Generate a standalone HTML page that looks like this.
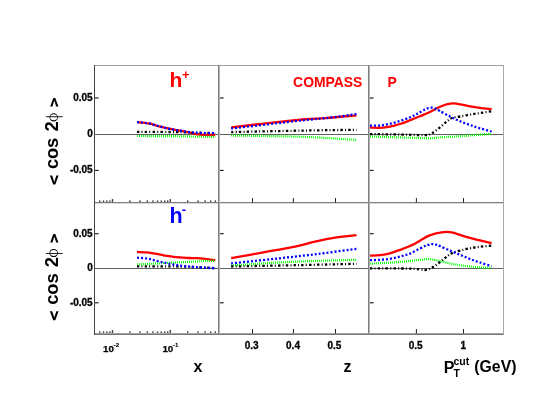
<!DOCTYPE html><html><head><meta charset="utf-8"><style>html,body{margin:0;padding:0;background:#fff}svg{display:block;will-change:transform}</style></head><body><svg width="537" height="415" viewBox="0 0 537 415">
<rect width="537" height="415" fill="#fff"/>
<g shape-rendering="crispEdges">
<rect x="94" y="65" width="410" height="1" fill="#a0a0a0"/>
<rect x="94" y="202" width="410" height="1" fill="#808080"/>
<rect x="94" y="203" width="410" height="1" fill="#dadada"/>
<rect x="94" y="333" width="410" height="1" fill="#a4a4a4"/>
<rect x="94" y="334" width="410" height="1" fill="#767676"/>
<rect x="94" y="134" width="409" height="1" fill="#606060"/>
<rect x="94" y="268" width="409" height="1" fill="#606060"/>
<rect x="94" y="65" width="1" height="270" fill="#444"/>
<rect x="218" y="65" width="1" height="270" fill="#808080"/>
<rect x="219" y="66" width="1" height="268" fill="#b4b4b4"/>
<rect x="368" y="65" width="1" height="270" fill="#808080"/>
<rect x="369" y="66" width="1" height="268" fill="#b4b4b4"/>
<rect x="503" y="65" width="1" height="270" fill="#a8a8a8"/>
</g>
<g fill="#222"><rect x="252.0" y="198" width="1" height="4.5"/><rect x="292.9" y="198" width="1" height="4.5"/><rect x="335.0" y="198" width="1" height="4.5"/><rect x="415.9" y="198" width="1" height="4.5"/><rect x="463.0" y="198" width="1" height="4.5"/><rect x="252.0" y="329" width="1" height="4.5"/><rect x="292.9" y="329" width="1" height="4.5"/><rect x="335.0" y="329" width="1" height="4.5"/><rect x="415.9" y="329" width="1" height="4.5"/><rect x="463.0" y="329" width="1" height="4.5"/></g>
<g fill="#444"><rect x="99.0" y="200.4" width="1.4" height="1.6"/><rect x="102.8" y="200.4" width="1.4" height="1.6"/><rect x="106.2" y="200.4" width="1.4" height="1.6"/><rect x="109.2" y="200.4" width="1.4" height="1.6"/><rect x="111.8" y="199.0" width="1.4" height="3"/><rect x="129.2" y="200.4" width="1.4" height="1.6"/><rect x="139.4" y="200.4" width="1.4" height="1.6"/><rect x="146.6" y="200.4" width="1.4" height="1.6"/><rect x="152.2" y="200.4" width="1.4" height="1.6"/><rect x="156.8" y="200.4" width="1.4" height="1.6"/><rect x="160.6" y="200.4" width="1.4" height="1.6"/><rect x="164.0" y="200.4" width="1.4" height="1.6"/><rect x="167.0" y="200.4" width="1.4" height="1.6"/><rect x="169.6" y="199.0" width="1.4" height="3"/><rect x="187.0" y="200.4" width="1.4" height="1.6"/><rect x="197.2" y="200.4" width="1.4" height="1.6"/><rect x="204.4" y="200.4" width="1.4" height="1.6"/><rect x="210.0" y="200.4" width="1.4" height="1.6"/><rect x="214.6" y="200.4" width="1.4" height="1.6"/><rect x="99.0" y="331.4" width="1.4" height="1.6"/><rect x="102.8" y="331.4" width="1.4" height="1.6"/><rect x="106.2" y="331.4" width="1.4" height="1.6"/><rect x="109.2" y="331.4" width="1.4" height="1.6"/><rect x="111.8" y="330.0" width="1.4" height="3"/><rect x="129.2" y="331.4" width="1.4" height="1.6"/><rect x="139.4" y="331.4" width="1.4" height="1.6"/><rect x="146.6" y="331.4" width="1.4" height="1.6"/><rect x="152.2" y="331.4" width="1.4" height="1.6"/><rect x="156.8" y="331.4" width="1.4" height="1.6"/><rect x="160.6" y="331.4" width="1.4" height="1.6"/><rect x="164.0" y="331.4" width="1.4" height="1.6"/><rect x="167.0" y="331.4" width="1.4" height="1.6"/><rect x="169.6" y="330.0" width="1.4" height="3"/><rect x="187.0" y="331.4" width="1.4" height="1.6"/><rect x="197.2" y="331.4" width="1.4" height="1.6"/><rect x="204.4" y="331.4" width="1.4" height="1.6"/><rect x="210.0" y="331.4" width="1.4" height="1.6"/><rect x="214.6" y="331.4" width="1.4" height="1.6"/></g>
<g fill="#111"><rect x="95" y="97.45" width="3.6" height="1.1"/><rect x="95" y="169.85" width="3.6" height="1.1"/><rect x="95" y="233.15" width="3.6" height="1.1"/><rect x="95" y="302.25" width="3.6" height="1.1"/><rect x="220" y="97.45" width="3.6" height="1.1"/><rect x="220" y="169.85" width="3.6" height="1.1"/><rect x="220" y="233.15" width="3.6" height="1.1"/><rect x="220" y="302.25" width="3.6" height="1.1"/><rect x="370" y="97.45" width="3.6" height="1.1"/><rect x="370" y="169.85" width="3.6" height="1.1"/><rect x="370" y="233.15" width="3.6" height="1.1"/><rect x="370" y="302.25" width="3.6" height="1.1"/></g>
<g fill="none" stroke-linejoin="round">
<path d="M137.0,122.2 C137.7,122.2 139.7,122.4 141.0,122.5 C142.3,122.6 143.5,122.6 145.0,122.8 C146.5,123.0 148.3,123.3 150.0,123.7 C151.7,124.1 153.3,124.7 155.0,125.2 C156.7,125.7 158.3,126.2 160.0,126.6 C161.7,127.0 163.3,127.4 165.0,127.8 C166.7,128.2 167.5,128.4 170.0,128.9 C172.5,129.4 176.7,130.0 180.0,130.6 C183.3,131.2 187.5,132.1 190.0,132.6 C192.5,133.1 193.3,133.5 195.0,133.8 C196.7,134.1 198.0,134.3 200.0,134.5 C202.0,134.7 204.5,134.8 207.0,134.9 C209.5,135.0 213.8,135.0 215.2,135.0" stroke="#ff0000" stroke-width="2.3"/>
<path d="M137.0,136.0 C143.3,136.0 165.3,136.1 175.0,136.2 C184.7,136.3 188.3,136.5 195.0,136.6 C201.7,136.7 211.8,136.9 215.2,137.0" stroke="#00ff00" stroke-width="2.2" stroke-dasharray="1 1"/>
<path d="M137.0,131.9 C142.5,131.9 161.2,131.9 170.0,132.0 C178.8,132.1 182.5,132.3 190.0,132.5 C197.5,132.7 211.0,133.0 215.2,133.1" stroke="#000000" stroke-width="2.3" stroke-dasharray="2.4 2.2 1 2.2"/>
<path d="M137.0,122.2 C137.7,122.2 139.7,122.4 141.0,122.5 C142.3,122.6 143.5,122.6 145.0,122.8 C146.5,123.0 148.3,123.3 150.0,123.7 C151.7,124.1 153.3,124.7 155.0,125.2 C156.7,125.7 158.3,126.2 160.0,126.6 C161.7,127.0 163.3,127.4 165.0,127.8 C166.7,128.2 167.5,128.4 170.0,128.9 C172.5,129.4 176.7,130.1 180.0,130.6 C183.3,131.1 186.7,131.8 190.0,132.2 C193.3,132.6 195.8,132.8 200.0,133.0 C204.2,133.2 212.7,133.2 215.2,133.2" stroke="#0000ff" stroke-width="2.3" stroke-dasharray="2 2"/>
<path d="M231.2,127.3 C243.0,126.0 286.4,121.0 302.0,119.5 C317.6,118.0 315.9,118.9 325.0,118.2 C334.1,117.5 351.2,115.8 356.5,115.3" stroke="#ff0000" stroke-width="2.3"/>
<path d="M231.2,135.5 C243.0,135.7 281.1,136.1 302.0,136.8 C322.9,137.5 347.4,139.4 356.5,139.9" stroke="#00ff00" stroke-width="2.2" stroke-dasharray="1 1"/>
<path d="M231.2,132.1 C243.0,131.8 281.1,131.0 302.0,130.6 C322.9,130.2 347.4,129.9 356.5,129.8" stroke="#000000" stroke-width="2.3" stroke-dasharray="2.4 2.2 1 2.2"/>
<path d="M231.2,128.5 C243.0,127.2 286.4,122.1 302.0,120.4 C317.6,118.7 315.9,119.2 325.0,118.2 C334.1,117.2 351.2,114.9 356.5,114.2" stroke="#0000ff" stroke-width="2.3" stroke-dasharray="2 2"/>
<path d="M370.0,127.6 C371.7,127.6 376.7,128.0 380.0,127.8 C383.3,127.6 386.7,127.2 390.0,126.6 C393.3,126.0 396.7,125.0 400.0,124.0 C403.3,123.0 406.7,121.6 410.0,120.3 C413.3,119.0 416.7,117.7 420.0,116.3 C423.3,114.9 427.5,113.2 430.0,112.0 C432.5,110.8 433.3,110.3 435.0,109.4 C436.7,108.5 438.2,107.6 440.0,106.8 C441.8,106.0 444.3,105.0 446.0,104.5 C447.7,104.0 448.7,103.9 450.0,103.7 C451.3,103.5 452.3,103.3 454.0,103.4 C455.7,103.5 457.3,103.8 460.0,104.3 C462.7,104.8 466.7,105.7 470.0,106.3 C473.3,106.9 476.4,107.4 480.0,107.9 C483.6,108.4 489.7,108.9 491.6,109.1" stroke="#ff0000" stroke-width="2.3"/>
<path d="M370.0,136.5 C375.0,136.7 391.7,137.2 400.0,137.4 C408.3,137.7 415.0,137.8 420.0,138.0 C425.0,138.2 426.7,138.5 430.0,138.4 C433.3,138.3 435.0,137.8 440.0,137.4 C445.0,137.0 453.3,136.6 460.0,136.2 C466.7,135.8 474.7,135.1 480.0,134.7 C485.3,134.3 489.7,134.1 491.6,134.0" stroke="#00ff00" stroke-width="2.2" stroke-dasharray="1 1"/>
<path d="M370.0,134.1 C375.0,134.2 391.7,134.3 400.0,134.5 C408.3,134.7 415.5,135.0 420.0,135.1 C424.5,135.2 425.0,135.3 427.0,135.0 C429.0,134.7 429.8,134.5 432.0,133.2 C434.2,131.9 437.5,129.3 440.0,127.3 C442.5,125.3 445.0,122.8 447.0,121.3 C449.0,119.8 449.8,118.8 452.0,118.0 C454.2,117.2 457.0,117.1 460.0,116.5 C463.0,115.9 466.7,115.2 470.0,114.6 C473.3,114.0 476.4,113.6 480.0,113.1 C483.6,112.5 489.7,111.6 491.6,111.3" stroke="#000000" stroke-width="2.3" stroke-dasharray="2.4 2.2 1 2.2"/>
<path d="M370.0,125.6 C371.7,125.6 376.7,125.8 380.0,125.5 C383.3,125.2 386.7,124.5 390.0,123.7 C393.3,123.0 396.7,122.1 400.0,121.0 C403.3,119.9 407.1,118.5 410.0,117.3 C412.9,116.1 415.1,114.8 417.5,113.6 C419.9,112.3 422.8,110.7 424.6,109.8 C426.4,108.9 427.2,108.5 428.4,108.2 C429.6,107.9 430.7,107.6 432.0,107.7 C433.3,107.8 434.9,108.5 436.2,109.1 C437.5,109.7 437.7,109.9 440.0,111.1 C442.3,112.3 446.7,114.8 450.0,116.5 C453.3,118.2 456.7,119.9 460.0,121.3 C463.3,122.7 466.7,123.8 470.0,125.0 C473.3,126.2 476.4,127.2 480.0,128.3 C483.6,129.4 489.7,131.0 491.6,131.5" stroke="#0000ff" stroke-width="2.3" stroke-dasharray="2 2"/>
<path d="M137.0,252.0 C138.7,252.1 144.0,252.1 147.0,252.4 C150.0,252.7 152.2,253.1 155.0,253.6 C157.8,254.1 160.7,254.8 163.5,255.3 C166.3,255.8 169.2,256.2 172.0,256.6 C174.8,257.0 177.2,257.2 180.0,257.4 C182.8,257.6 186.2,257.9 189.0,258.0 C191.8,258.1 194.3,258.0 197.0,258.1 C199.7,258.2 202.0,258.5 205.0,258.9 C208.0,259.2 213.5,260.0 215.2,260.2" stroke="#ff0000" stroke-width="2.3"/>
<path d="M137.0,264.4 C140.0,264.3 149.2,263.9 155.0,263.6 C160.8,263.3 166.3,263.0 172.0,262.7 C177.7,262.4 183.5,262.2 189.0,261.9 C194.5,261.6 200.6,261.2 205.0,261.0 C209.4,260.8 213.5,260.9 215.2,260.9" stroke="#00ff00" stroke-width="2.2" stroke-dasharray="1 1"/>
<path d="M137.0,266.4 C144.2,266.4 170.0,266.4 180.0,266.5 C190.0,266.6 191.1,266.9 197.0,267.2 C202.9,267.5 212.2,268.0 215.2,268.1" stroke="#000000" stroke-width="2.3" stroke-dasharray="2.4 2.2 1 2.2"/>
<path d="M137.0,257.7 C138.7,257.8 144.0,258.1 147.0,258.5 C150.0,258.9 152.2,259.7 155.0,260.4 C157.8,261.1 160.7,261.9 163.5,262.5 C166.3,263.1 169.2,263.7 172.0,264.2 C174.8,264.7 177.2,265.2 180.0,265.6 C182.8,266.0 186.2,266.3 189.0,266.6 C191.8,266.9 192.6,266.9 197.0,267.2 C201.4,267.5 212.2,268.1 215.2,268.3" stroke="#0000ff" stroke-width="2.3" stroke-dasharray="2 2"/>
<path d="M231.2,258.2 C236.3,257.3 251.4,254.5 262.0,252.6 C272.6,250.7 286.2,248.4 295.0,246.6 C303.8,244.8 308.3,243.2 315.0,241.7 C321.7,240.2 328.1,238.8 335.0,237.7 C341.9,236.6 352.9,235.5 356.5,235.1" stroke="#ff0000" stroke-width="2.3"/>
<path d="M231.2,265.4 C241.8,264.8 274.1,262.6 295.0,261.7 C315.9,260.8 346.2,260.1 356.5,259.8" stroke="#00ff00" stroke-width="2.2" stroke-dasharray="1 1"/>
<path d="M231.2,266.5 C241.8,266.3 274.1,265.6 295.0,265.2 C315.9,264.8 346.2,264.0 356.5,263.8" stroke="#000000" stroke-width="2.3" stroke-dasharray="2.4 2.2 1 2.2"/>
<path d="M231.2,263.4 C241.8,262.3 279.4,258.3 295.0,256.6 C310.6,254.9 314.8,254.3 325.0,253.0 C335.2,251.7 351.2,249.5 356.5,248.8" stroke="#0000ff" stroke-width="2.3" stroke-dasharray="2 2"/>
<path d="M370.0,255.7 C371.7,255.6 376.7,255.5 380.0,255.1 C383.3,254.7 386.7,254.2 390.0,253.3 C393.3,252.4 396.7,251.1 400.0,249.9 C403.3,248.7 406.7,247.5 410.0,246.0 C413.3,244.5 417.2,242.3 420.0,240.7 C422.8,239.1 425.0,237.6 427.0,236.6 C429.0,235.6 429.8,235.2 432.0,234.6 C434.2,233.9 437.5,233.1 440.0,232.7 C442.5,232.2 444.8,231.9 447.0,231.9 C449.2,231.9 450.8,232.2 453.0,232.7 C455.2,233.2 457.2,234.0 460.0,234.9 C462.8,235.8 466.7,237.0 470.0,237.9 C473.3,238.8 476.4,239.5 480.0,240.4 C483.6,241.3 489.7,242.7 491.6,243.1" stroke="#ff0000" stroke-width="2.3"/>
<path d="M370.0,263.7 C373.3,263.5 383.3,263.2 390.0,262.7 C396.7,262.2 405.0,261.4 410.0,260.9 C415.0,260.4 417.0,260.1 420.0,259.8 C423.0,259.5 425.7,259.0 428.0,259.0 C430.3,259.0 432.0,259.7 434.0,260.0 C436.0,260.3 437.3,260.4 440.0,261.0 C442.7,261.6 446.7,262.8 450.0,263.5 C453.3,264.2 456.7,264.7 460.0,265.2 C463.3,265.7 466.7,266.1 470.0,266.5 C473.3,266.9 476.4,267.1 480.0,267.4 C483.6,267.6 489.7,267.9 491.6,268.0" stroke="#00ff00" stroke-width="2.2" stroke-dasharray="1 1"/>
<path d="M370.0,268.3 C376.7,268.4 401.7,268.4 410.0,268.6 C418.3,268.8 417.3,269.3 420.0,269.5 C422.7,269.7 424.0,270.2 426.0,269.9 C428.0,269.6 429.7,269.0 432.0,267.7 C434.3,266.4 437.5,263.9 440.0,262.0 C442.5,260.1 445.0,258.0 447.0,256.5 C449.0,255.0 449.8,254.1 452.0,253.1 C454.2,252.1 457.0,251.4 460.0,250.6 C463.0,249.8 466.7,248.9 470.0,248.3 C473.3,247.7 476.4,247.2 480.0,246.8 C483.6,246.4 489.7,245.8 491.6,245.6" stroke="#000000" stroke-width="2.3" stroke-dasharray="2.4 2.2 1 2.2"/>
<path d="M370.0,260.2 C371.7,260.1 376.7,260.0 380.0,259.8 C383.3,259.6 386.7,259.3 390.0,258.8 C393.3,258.3 396.7,257.5 400.0,256.6 C403.3,255.7 406.7,254.9 410.0,253.6 C413.3,252.2 417.2,249.9 420.0,248.5 C422.8,247.1 425.0,246.0 427.0,245.3 C429.0,244.6 430.5,244.2 432.0,244.1 C433.5,244.0 434.7,244.3 436.0,244.6 C437.3,244.9 437.7,245.1 440.0,246.1 C442.3,247.1 446.7,249.2 450.0,250.6 C453.3,252.0 456.7,253.3 460.0,254.7 C463.3,256.1 466.7,257.7 470.0,259.0 C473.3,260.3 476.4,261.3 480.0,262.5 C483.6,263.7 489.7,265.6 491.6,266.2" stroke="#0000ff" stroke-width="2.3" stroke-dasharray="2 2"/>
</g>
<g font-family="Liberation Sans, sans-serif" font-weight="bold" fill="#000">
<text x="92.7" y="100.6" font-size="10" text-anchor="end" stroke="#000" stroke-width="0.3">0.05</text>
<text x="92.7" y="136.8" font-size="10" text-anchor="end" stroke="#000" stroke-width="0.3">0</text>
<text x="92.7" y="173.0" font-size="10" text-anchor="end" stroke="#000" stroke-width="0.3">-0.05</text>
<text x="92.7" y="236.6" font-size="10" text-anchor="end" stroke="#000" stroke-width="0.3">0.05</text>
<text x="92.7" y="271.1" font-size="10" text-anchor="end" stroke="#000" stroke-width="0.3">0</text>
<text x="92.7" y="305.6" font-size="10" text-anchor="end" stroke="#000" stroke-width="0.3">-0.05</text>
<text x="251.6" y="348.5" font-size="10" text-anchor="middle" stroke="#000" stroke-width="0.3">0.3</text>
<text x="293.0" y="348.5" font-size="10" text-anchor="middle" stroke="#000" stroke-width="0.3">0.4</text>
<text x="334.4" y="348.5" font-size="10" text-anchor="middle" stroke="#000" stroke-width="0.3">0.5</text>
<text x="415.6" y="348.5" font-size="10" text-anchor="middle" stroke="#000" stroke-width="0.3">0.5</text>
<text x="463.2" y="348.5" font-size="10" text-anchor="middle" stroke="#000" stroke-width="0.3">1</text>
<text x="103" y="351.8" font-size="9.8" stroke="#000" stroke-width="0.25">10<tspan font-size="6.2" dy="-5.3" dx="-0.3" stroke-width="0.1">-2</tspan></text>
<text x="162.4" y="351.8" font-size="9.8" stroke="#000" stroke-width="0.25">10<tspan font-size="6.2" dy="-5.3" dx="-0.3" stroke-width="0.1">-1</tspan></text>
<text x="193.5" y="371.8" font-size="16">x</text>
<text x="343.5" y="371.8" font-size="16">z</text>
<text x="443.8" y="372.6" font-size="16">P</text>
<text transform="translate(453.5,364.9) scale(1.04,1)" font-size="10.1">cut</text>
<text x="453.6" y="376.8" font-size="10.5">T</text>
<text x="474.3" y="372.4" font-size="15.8">(GeV)</text>
<polygon points="49.9,175.60 52.2,175.60 54.25,181.90 56.3,175.60 58.6,175.60 55.3,184.60 53.2,184.60"/>
<text transform="translate(58.00,169.00) rotate(-90)" font-size="18.4" >c</text>
<text transform="translate(58.00,159.10) rotate(-90)" font-size="18.4" >o</text>
<text transform="translate(58.00,147.90) rotate(-90)" font-size="18.4" >s</text>
<text transform="translate(58.00,131.60) rotate(-90)" font-size="18.4" >2</text>
<path fill-rule="evenodd" d="M49.45,117.30a4.25,4.1 0 1,0 8.5,0a4.25,4.1 0 1,0 -8.5,0z M50.15,117.30a3.55,2.95 0 1,0 7.1,0a3.55,2.95 0 1,0 -7.1,0z"/>
<rect x="45.9" y="116.30" width="16.8" height="0.9" />
<polygon points="50.2,106.40 52.4,106.40 54.3,100.60 56.2,106.40 58.4,106.40 55.3,97.90 53.3,97.90"/>
<polygon points="49.9,311.30 52.2,311.30 54.25,317.60 56.3,311.30 58.6,311.30 55.3,320.30 53.2,320.30"/>
<text transform="translate(58.00,304.70) rotate(-90)" font-size="18.4" >c</text>
<text transform="translate(58.00,294.80) rotate(-90)" font-size="18.4" >o</text>
<text transform="translate(58.00,283.60) rotate(-90)" font-size="18.4" >s</text>
<text transform="translate(58.00,267.30) rotate(-90)" font-size="18.4" >2</text>
<path fill-rule="evenodd" d="M49.45,253.00a4.25,4.1 0 1,0 8.5,0a4.25,4.1 0 1,0 -8.5,0z M50.15,253.00a3.55,2.95 0 1,0 7.1,0a3.55,2.95 0 1,0 -7.1,0z"/>
<rect x="45.9" y="252.95" width="16.8" height="0.9" />
<polygon points="50.2,242.60 52.4,242.60 54.3,236.80 56.2,242.60 58.4,242.60 55.3,234.10 53.3,234.10"/>
<text x="169.6" y="87.2" font-size="21" fill="#f00">h<tspan font-size="13" dx="-0.5" dy="-8.2">+</tspan></text>
<text x="169.6" y="223.4" font-size="21.5" fill="#00f">h<tspan font-size="13" dx="-1.1" dy="-9.2">-</tspan></text>
<text x="293.1" y="87" font-size="13.9" fill="#f00">COMPASS</text>
<text x="387.5" y="87" font-size="13.9" fill="#f00">P</text>
</g>
</svg></body></html>
